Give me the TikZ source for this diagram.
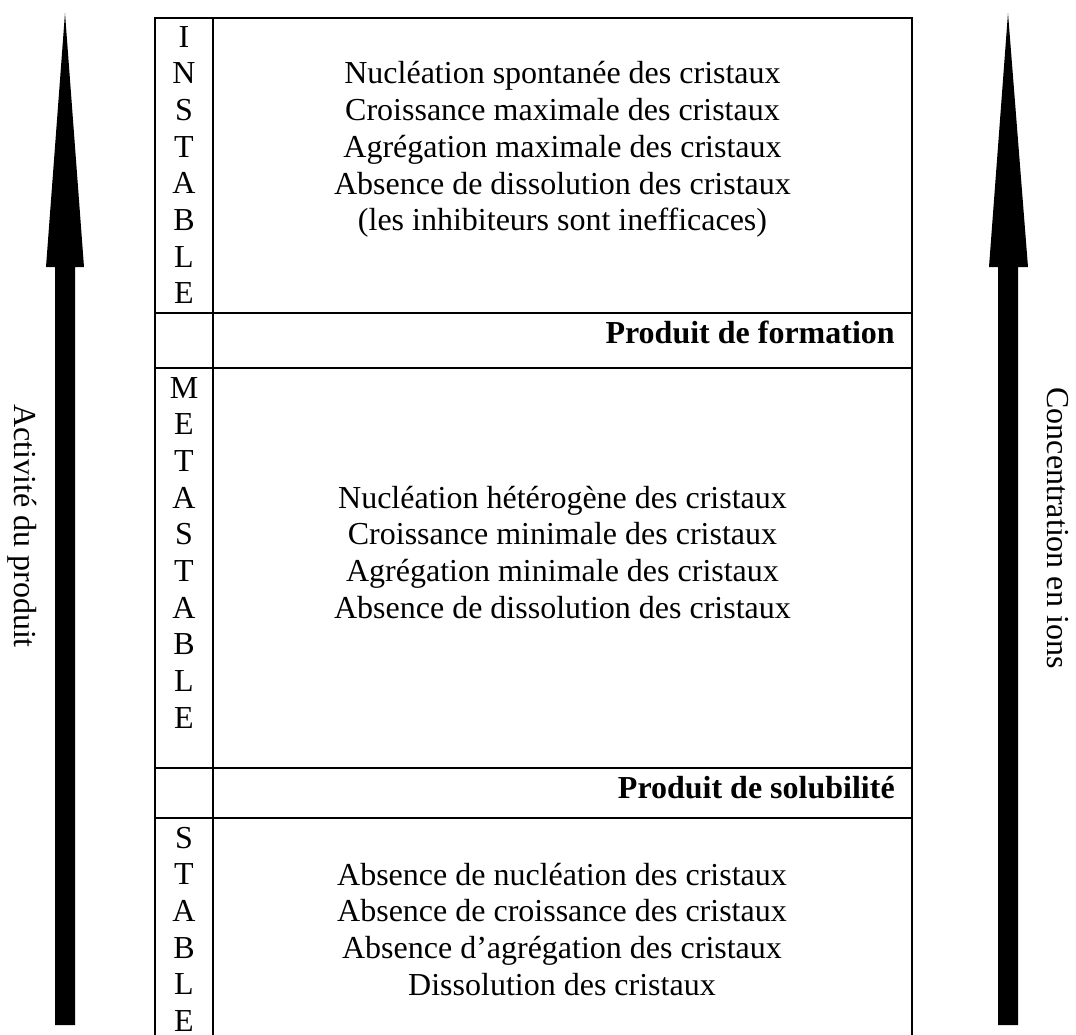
\documentclass[tikz,border=0pt]{standalone}
\usepackage{fontspec}
\setmainfont{Liberation Serif}
\newcommand{\tabfont}{\fontsize{24}{27.5}\selectfont}
\tikzset{
    tabline/.style={line width=1.5pt, color=black},
    bigarrow/.style={fill=black, draw=none},
    letter/.style={anchor=base, inner sep=0pt},
    txt/.style={anchor=base, inner sep=0pt},
    limit/.style={anchor=base east, inner sep=0pt, font=\tabfont\bfseries},
    axislabel/.style={rotate=-90, inner sep=0pt}
}

\begin{document}
\begin{tikzpicture}[x=0.75pt, y=-0.75pt, font=\tabfont]
    \useasboundingbox (0,0) rectangle (1076,1035);
    \clip (0,0) rectangle (1076,1035);

    % big arrows on both sides
    \coordinate (acttop) at (65,13);
    \coordinate (contop) at (1008,13);
    \fill[bigarrow] (acttop) -- ++(19,254) -- ++(-9,0) -- ++(0,758)
        -- ++(-20,0) -- ++(0,-758) -- ++(-9,0) -- cycle;
    \fill[bigarrow] (contop) -- ++(20,254) -- ++(-10,0) -- ++(0,758)
        -- ++(-20,0) -- ++(0,-758) -- ++(-9,0) -- cycle;
    \node[axislabel] (act) at (22,526) {Activité du produit};
    \node[axislabel] (con) at (1058,528) {Concentration en ions};

    % table frame
    \draw[tabline] (155,1040) |- (912,18) -- (912,1040);
    \draw[tabline] (213,18) -- (213,1040);
    \draw[tabline] (155,313) -- (912,313);
    \draw[tabline] (155,368) -- (912,368);
    \draw[tabline] (155,768) -- (912,768);
    \draw[tabline] (155,818) -- (912,818);

    % unstable zone
    \foreach \l [count=\i from 0] in {I,N,S,T,A,B,L,E}
        \node[letter] (ins\i) at (184,47+36.7*\i) {\l};
    \foreach \t [count=\i from 0] in {Nucléation spontanée des cristaux,
        Croissance maximale des cristaux,
        Agrégation maximale des cristaux,
        Absence de dissolution des cristaux,
        {(les inhibiteurs sont inefficaces)}}
        \node[txt] (inst\i) at (562.5,84+36.7*\i) {\t};
    \node[limit] (form) at (895,343) {Produit de formation};

    % metastable zone
    \foreach \l [count=\i from 0] in {M,E,T,A,S,T,A,B,L,E}
        \node[letter] (met\i) at (184,398+36.7*\i) {\l};
    \foreach \t [count=\i from 0] in {Nucléation hétérogène des cristaux,
        Croissance minimale des cristaux,
        Agrégation minimale des cristaux,
        Absence de dissolution des cristaux}
        \node[txt] (mett\i) at (562.5,508+36.7*\i) {\t};
    \node[limit] (solu) at (895,798) {Produit de solubilité};

    % stable zone
    \foreach \l [count=\i from 0] in {S,T,A,B,L,E}
        \node[letter] (sta\i) at (184,848+36.7*\i) {\l};
    \foreach \t [count=\i from 0] in {Absence de nucléation des cristaux,
        Absence de croissance des cristaux,
        Absence d’agrégation des cristaux,
        Dissolution des cristaux}
        \node[txt] (stat\i) at (562,885+36.7*\i) {\t};
\end{tikzpicture}
\end{document}
